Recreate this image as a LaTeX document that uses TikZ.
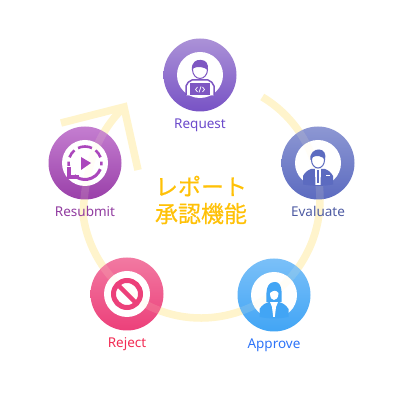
\documentclass[tikz,border=0pt]{standalone}
\usepackage{fontspec}
\setmainfont{Noto Sans}
\newfontfamily\cjk[FakeBold=.5]{Noto Sans CJK JP}
\usetikzlibrary{positioning}
\definecolor{ringcol}{HTML}{FFF4CC}
\definecolor{titlecol}{HTML}{FFC107}
\definecolor{requestcol}{HTML}{7E57C2}
\definecolor{evaluatecol}{HTML}{5C6BC0}
\definecolor{approvecol}{HTML}{42A5F5}
\definecolor{rejectcol}{HTML}{EC407A}
\definecolor{resubmitcol}{HTML}{AB47BC}
\tikzset{
  stage/.style={circle, minimum size=73pt, inner sep=0pt, shading=axis, shading angle=0},
  stagehole/.style={circle, minimum size=46pt, inner sep=0pt, fill=white},
  stagelabel/.style={below=7pt of #1, inner sep=0pt, text height=10pt, text depth=3pt, font=\fontsize{13.5}{15}\selectfont},
  ringline/.style={draw=ringcol, line width=7.5pt},
}
\newcommand{\ringpath}[1]{
    \draw[ringline, #1] (ringcentre) ++(59:119) arc[start angle=59, end angle=-172, radius=119]
        .. controls (85,240) and (100,270) .. (tip);
    \draw[ringline, line join=miter, #1] (61,278) -- (tip) -- (138,231);
}
\begin{document}
\begin{tikzpicture}[x=1pt, y=1pt]
        \useasboundingbox (0,0) rectangle (401,401);
        % ring
        \coordinate (ringcentre) at (201,202);
        \coordinate (tip) at (124,294);
        \ringpath{}

        % stages
        \node[stage, top color=requestcol!65!white, bottom color=requestcol!95!blue] (request) at (200,326) {};
        \node[stage, top color=evaluatecol!70!white, bottom color=evaluatecol] (evaluate) at (318,238) {};
        \node[stage, top color=approvecol!70!white, bottom color=approvecol] (approve) at (274,106) {};
        \node[stage, top color=rejectcol!70!white, bottom color=rejectcol] (reject) at (127,107) {};
        \node[stage, top color=resubmitcol!70!white, bottom color=resubmitcol!90!black] (resubmit) at (85,238) {};
        \foreach \s in {request,evaluate,approve,reject,resubmit}
            \node[stagehole] (\s hole) at (\s) {};
        % ring showing through
        \ringpath{opacity=.14}

        % labels
        \node[stagelabel=request, text=requestcol!85!blue] (requestlabel) {Request};
        \node[stagelabel=evaluate, text=evaluatecol!85!black] (evaluatelabel) {Evaluate};
        \node[stagelabel=approve, text=approvecol!70!blue] (approvelabel) {Approve};
        \node[stagelabel=reject, text=rejectcol!70!red] (rejectlabel) {Reject};
        \node[stagelabel=resubmit, text=resubmitcol!85!black] (resubmitlabel) {Resubmit};
        \node[align=center, text=titlecol, font=\cjk\fontsize{23}{27}\selectfont] (title) at (201,201) {レポート\\承認機能};

        % request icon
        \begin{scope}[shift={(request)}]
            \draw[requestcol, line width=1.5pt, fill=white] (-14,-20.5) -- (-14,-11) to[bend left=25] (-8,-5) -- (8,-5) to[bend left=25] (14,-11) -- (14,-20.5);
            \fill[requestcol] (-10,-8.5) rectangle (10,-20.5);
            \draw[white, line width=.7pt] (-2.5,-12) -- (-4.5,-14.5) -- (-2.5,-17) (2.5,-12) -- (4.5,-14.5) -- (2.5,-17) (1,-11.5) -- (-1,-17.5);
            \draw[requestcol, line width=1pt, fill=white] (0,5.5) ellipse (7.5 and 9);
            \fill[requestcol] (-8,5) .. controls (-9,13) and (-3,16) .. (1,15) .. controls (6,15) and (9,11) .. (7.5,5) .. controls (5,8) and (-3,9) .. (-6,7) -- cycle;
        \end{scope}

        % evaluate icon
        \begin{scope}[shift={(evaluate)}]
            \fill[evaluatecol] (-15,-21.5) -- (-15,-13) to[bend left=20] (-7,-6) -- (7,-6) to[bend left=20] (15,-13) -- (15,-21.5) to[bend left=10] cycle;
            \fill[white] (-3,-6) -- (3,-6) -- (2.5,-22) -- (-2.5,-22) -- cycle;
            \fill[evaluatecol] (-1.2,-7) -- (1.2,-7) -- (1.2,-20) -- (-1.2,-20) -- cycle;
            \draw[white, line width=.8pt] (8,-12.5) -- (12,-12.5);
            \draw[evaluatecol, line width=1pt, fill=white] (0,3) ellipse (6.5 and 8);
            \fill[evaluatecol] (-7.5,3) .. controls (-9,10) and (-3,14) .. (1,13.5) .. controls (6,13.5) and (8.5,9) .. (7,3) .. controls (5,7) and (-2,8) .. (-5,6) -- cycle;
        \end{scope}

        % approve icon
        \begin{scope}[shift={(approve)}]
            \fill[approvecol] (-14.5,-22) -- (-14.5,-14) to[bend left=20] (-5,-7) -- (5,-7) to[bend left=20] (14.5,-14) -- (14.5,-22) to[bend left=10] cycle;
            \fill[white] (-4,-7) -- (4,-7) -- (2,-12) -- (.8,-22) -- (-.8,-22) -- (-2,-12) -- cycle;
            \fill[approvecol] (-7.5,-7) .. controls (-8,3) and (-8,13) .. (1,13) .. controls (8,13) and (8,3) .. (7.5,-7) -- cycle;
            \fill[white] (-4,2) .. controls (0,5) and (2,5) .. (4.5,2) .. controls (4.5,-3) and (2,-5) .. (0,-5) .. controls (-2,-5) and (-4,-3) .. (-4,2) -- cycle;
        \end{scope}

        % reject icon
        \begin{scope}[shift={(reject)}]
            \draw[rejectcol, line width=5pt] (0,0) circle (13.5);
            \draw[rejectcol, line width=4.5pt] (-9.5,9.5) -- (9.5,-9.5);
        \end{scope}

        % resubmit icon
        \begin{scope}[shift={(resubmit)}]
            \draw[resubmitcol, line width=2.6pt] (0,0) ++(65:16.5) arc[start angle=65, end angle=115, radius=16.5];
            \draw[resubmitcol, line width=2.6pt] (0,0) ++(20:16.5) arc[start angle=20, end angle=50, radius=16.5];
            \draw[resubmitcol, line width=2.6pt] (0,0) ++(130:16.5) arc[start angle=130, end angle=160, radius=16.5];
            \draw[resubmitcol, line width=2.6pt] (0,0) ++(175:16.5) arc[start angle=175, end angle=190, radius=16.5];
            \draw[resubmitcol, line width=2.6pt] (0,0) ++(5:16.5) arc[start angle=5, end angle=-8, radius=16.5];
            \draw[resubmitcol, line width=3pt] (0,0) ++(-22:16.5) arc[start angle=-22, end angle=-130, radius=16.5];
            \draw[resubmitcol, line width=3.2pt, line join=miter] (-16,-4) -- (-16,-14) -- (-6,-14);
            \fill[resubmitcol] (-4,6) -- (6,0) -- (-4,-7) -- cycle;
        \end{scope}
    \end{tikzpicture}
\end{document}
